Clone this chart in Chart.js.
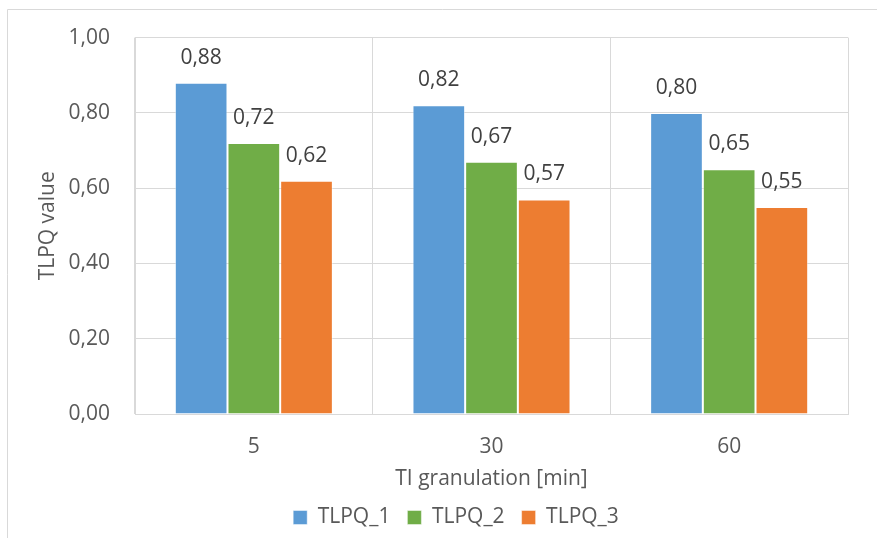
<!DOCTYPE html>
<html>
<head>
<meta charset="utf-8">
<script src="https://cdn.jsdelivr.net/npm/chart.js@4/dist/chart.umd.min.js"></script>
<style>
  html, body { margin: 0; padding: 0; background: #ffffff; }
  #wrap { position: relative; width: 877px; height: 538px; }
</style>
</head>
<body>
<div id="wrap"><canvas id="chart" width="877" height="538"></canvas></div>
<script>
// Granulation steps (minutes) and the TLPQ value of each variant
const categories = ['5', '30', '60'];
const tlpq1 = [0.88, 0.82, 0.80];
const tlpq2 = [0.72, 0.67, 0.65];
const tlpq3 = [0.62, 0.57, 0.55];
const seriesNames = ['TLPQ_1', 'TLPQ_2', 'TLPQ_3'];
const seriesColors = ['#5B9BD5', '#70AD47', '#ED7D31'];

const FONT = "'Open Sans', 'Noto Sans', sans-serif";
const FS = 21;
const TEXT = '#595959';
const GRID = '#d9d9d9';

const fmt = v => Number(v).toFixed(2).replace('.', ',');

// Thin outer frame around the whole chart
const framePlugin = {
  id: 'frame',
  beforeDraw(chart) {
    const ctx = chart.ctx;
    ctx.save();
    ctx.strokeStyle = GRID;
    ctx.lineWidth = 1;
    ctx.beginPath();
    ctx.moveTo(7.5, chart.height + 2);
    ctx.lineTo(7.5, 9.5);
    ctx.lineTo(chart.width + 2, 9.5);
    ctx.stroke();
    ctx.restore();
  }
};

// Value labels above each bar
const valueLabels = {
  id: 'valueLabels',
  afterDatasetsDraw(chart) {
    const ctx = chart.ctx;
    ctx.save();
    ctx.font = FS + 'px ' + FONT;
    ctx.fillStyle = '#404040';
    ctx.textAlign = 'center';
    ctx.textBaseline = 'middle';
    chart.data.datasets.forEach((ds, di) => {
      chart.getDatasetMeta(di).data.forEach((bar, i) => {
        ctx.fillText(fmt(ds.data[i]), bar.x, bar.y - 25);
      });
    });
    ctx.restore();
  }
};

new Chart(document.getElementById('chart'), {
  type: 'bar',
  data: {
    labels: categories,
    datasets: [tlpq1, tlpq2, tlpq3].map((d, i) => ({
      label: seriesNames[i],
      data: d,
      backgroundColor: seriesColors[i],
      borderColor: 'rgba(255,255,255,0.45)',
      borderWidth: 1,
      categoryPercentage: 0.665,
      barPercentage: 1.0
    }))
  },
  options: {
    responsive: false,
    animation: false,
    devicePixelRatio: 1,
    layout: { padding: { left: 35, top: 36, right: 0, bottom: 0 } },
    plugins: {
      legend: {
        position: 'bottom',
        labels: {
          boxWidth: 14,
          boxHeight: 14,
          padding: 17,
          color: TEXT,
          font: { family: FONT, size: FS }
        }
      },
      tooltip: { enabled: false }
    },
    scales: {
      x: {
        offset: true,
        grid: { offset: true, color: GRID, drawTicks: false, lineWidth: 1 },
        border: { display: true, color: GRID },
        ticks: { color: TEXT, font: { family: FONT, size: FS }, padding: 20 },
        title: {
          display: true,
          text: 'TI granulation [min]',
          color: TEXT,
          font: { family: FONT, size: FS, lineHeight: 1.0 },
          padding: { top: 0, bottom: 0 }
        },
        afterFit(scale) { scale.height = 76; }
      },
      y: {
        min: 0,
        max: 1,
        grid: { color: GRID, drawTicks: false, lineWidth: 1 },
        border: { display: true, color: GRID },
        ticks: {
          stepSize: 0.2,
          color: TEXT,
          font: { family: FONT, size: FS },
          padding: 25,
          callback: v => fmt(v)
        },
        title: {
          display: true,
          text: 'TLPQ value',
          color: TEXT,
          font: { family: FONT, size: FS },
          padding: { top: 0, bottom: 0 }
        },
        afterFit(scale) { scale.width = 100; }
      },
      // empty right-hand margin beside the plot
      yRight: {
        position: 'right',
        display: true,
        grid: { display: false },
        border: { display: false },
        ticks: { display: false },
        afterFit(scale) { scale.width = 29; }
      }
    }
  },
  plugins: [framePlugin, valueLabels]
});
</script>
</body>
</html>
